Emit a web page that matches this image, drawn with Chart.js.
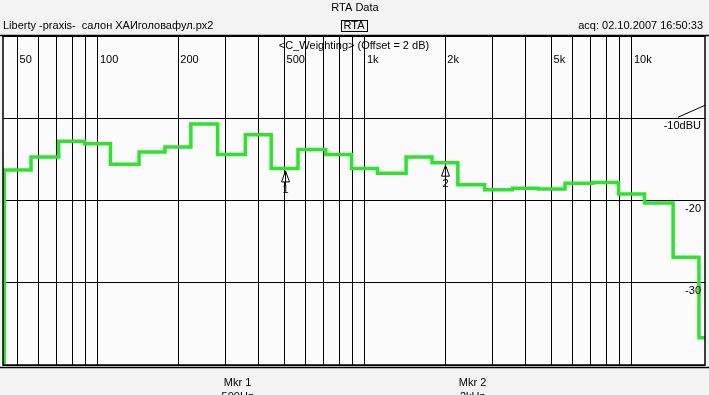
<!DOCTYPE html>
<html>
<head>
<meta charset="utf-8">
<script src="https://cdn.jsdelivr.net/npm/chart.js@4/dist/chart.umd.min.js"></script>
<style>
html,body{margin:0;padding:0;background:#f3f3f3;overflow:hidden;}
#wrap{width:709px;height:395px;position:relative;}
</style>
</head>
<body>
<div id="wrap"><canvas id="c" width="709" height="395"></canvas></div>
<script>
// ---- data ----
const bandCenters = [40, 50, 63, 80, 100, 125, 160, 200, 250, 315, 400, 500, 630, 800, 1000, 1250, 1600, 2000, 2500, 3150, 4000, 5000, 6300, 8000, 10000, 12500, 16000, 20000];
const levelsDb   = [-50, -16.3, -14.7, -12.8, -13.1, -15.6, -14.1, -13.5, -10.7, -14.4, -12.0, -16.1, -13.8, -14.4, -16.1, -16.7, -14.7, -15.4, -18.1, -18.7, -18.5, -18.6, -17.9, -17.8, -19.2, -20.3, -26.9, -36.7];
const gridFreqs  = [50, 60, 70, 80, 90, 100, 200, 300, 400, 500, 600, 700, 800, 900, 1000, 2000, 3000, 4000, 5000, 6000, 7000, 8000, 9000, 10000];
const freqLabels = [[50,'50'],[100,'100'],[200,'200'],[500,'500'],[1000,'1k'],[2000,'2k'],[5000,'5k'],[10000,'10k']];
const dbTicks    = [[-10,'-10dBU'],[-20,'-20'],[-30,'-30']];
const markers    = [{freq:500, name:'1', label:'Mkr 1', value:'500Hz'}, {freq:2000, name:'2', label:'Mkr 2', value:'2kHz'}];
const freqMin = 44.08, freqMax = 18768, dbMin = -40, dbMax = 0;

// stepped trace: each band holds its level from lower edge to upper edge
const third = Math.pow(2, 1/6);
const tracePts = bandCenters.map((f, i) => ({x: f / third, y: levelsDb[i]}));
tracePts.push({x: bandCenters[bandCenters.length-1] * third, y: levelsDb[levelsDb.length-1]});

const FONT = '11px "Liberation Sans", Arial, sans-serif';

function levelAt(freq){
  const i = bandCenters.indexOf(freq);
  return levelsDb[i];
}

const decor = {
  id: 'decor',
  beforeDraw(chart){
    const {ctx, chartArea:a} = chart;
    ctx.save();
    ctx.fillStyle = '#fbfbfb';
    ctx.fillRect(a.left, a.top, a.right - a.left, a.bottom - a.top);
    ctx.restore();
  },
  afterDraw(chart){
    const {ctx, chartArea:a, scales:{x, y}} = chart;
    ctx.save();
    // frame
    ctx.strokeStyle = '#000';
    ctx.lineWidth = 1.5;
    ctx.strokeRect(a.left, a.top, a.right - a.left, a.bottom - a.top);
    ctx.lineWidth = 1.5;
    ctx.beginPath();
    ctx.moveTo(0, a.top - 0.5); ctx.lineTo(709, a.top - 0.5);
    ctx.moveTo(0, a.bottom + 2.5); ctx.lineTo(709, a.bottom + 2.5);
    ctx.stroke();

    ctx.fillStyle = '#000';
    ctx.font = FONT;
    // header texts
    ctx.textBaseline = 'middle';
    ctx.textAlign = 'center';
    ctx.fillText('RTA Data', 355, 8);
    ctx.fillText('RTA', 354, 26);
    ctx.lineWidth = 1;
    ctx.strokeRect(341.5, 20.5, 26, 11);
    ctx.textAlign = 'left';
    ctx.fillText('Liberty -praxis-  салон ХАИголовафул.px2', 3, 26);
    ctx.textAlign = 'right';
    ctx.fillText('acq: 02.10.2007 16:50:33', 703, 26);
    ctx.textAlign = 'center';
    ctx.fillText('<C_Weighting> (Offset = 2 dB)', 354, 46);

    // frequency labels inside plot
    ctx.textAlign = 'left';
    freqLabels.forEach(([f, t]) => {
      ctx.fillText(t, x.getPixelForValue(f) + 2, 60);
    });
    // dB labels inside plot, below grid lines
    ctx.textAlign = 'right';
    dbTicks.forEach(([v, t]) => {
      ctx.fillText(t, a.right - 4, y.getPixelForValue(v) + 8);
    });
    // small diagonal at top-right ref level
    const yr = y.getPixelForValue(-10);
    ctx.lineWidth = 1;
    ctx.beginPath();
    ctx.moveTo(a.right - 27, yr - 1);
    ctx.lineTo(a.right, yr - 13);
    ctx.stroke();

    // markers
    markers.forEach(m => {
      const px = Math.round(x.getPixelForValue(m.freq)) + 0.5;
      const py = y.getPixelForValue(levelAt(m.freq));
      const tip = py + 2.5;
      ctx.lineWidth = 1;
      ctx.strokeStyle = '#000';
      ctx.beginPath();
      ctx.moveTo(px, tip);
      ctx.lineTo(px - 4, tip + 11);
      ctx.lineTo(px + 4, tip + 11);
      ctx.closePath();
      ctx.fillStyle = '#fbfbfb';
      ctx.fill();
      ctx.stroke();
      ctx.beginPath();
      ctx.moveTo(px, tip);
      ctx.lineTo(px, tip + 14);
      ctx.stroke();
      ctx.fillStyle = '#000';
      ctx.textAlign = 'center';
      ctx.fillText(m.name, px, tip + 19);
      // bottom readout
      const bx = px - 48 + (m.freq === 2000 ? 75 : 0);
      ctx.fillText(m.label, px - 48 + (m.freq === 2000 ? 75 : 0), 383);
      ctx.fillText(m.value, bx, 397);
    });
    ctx.restore();
  }
};

new Chart(document.getElementById('c'), {
  type: 'line',
  data: {
    datasets: [{
      data: tracePts,
      stepped: true,
      borderColor: '#2ee22e',
      borderWidth: 3.5,
      pointRadius: 0,
      fill: false,
      tension: 0
    }]
  },
  options: {
    responsive: false,
    animation: false,
    devicePixelRatio: 1,
    layout: {padding: {left: 3, right: 4, top: 36, bottom: 30}},
    plugins: {legend: {display: false}, tooltip: {enabled: false}, title: {display: false}},
    scales: {
      x: {
        type: 'logarithmic',
        min: freqMin, max: freqMax,
        afterBuildTicks(scale){ scale.ticks = gridFreqs.map(v => ({value: v})); },
        afterFit(scale){ scale.height = 0; },
        ticks: {display: false},
        grid: {color: '#000', lineWidth: 1, drawTicks: false},
        border: {display: false}
      },
      y: {
        type: 'linear',
        min: dbMin, max: dbMax,
        ticks: {display: false, stepSize: 10},
        afterFit(scale){ scale.width = 0; },
        grid: {color: '#000', lineWidth: 1, drawTicks: false},
        border: {display: false}
      }
    }
  },
  plugins: [decor]
});
</script>
</body>
</html>
